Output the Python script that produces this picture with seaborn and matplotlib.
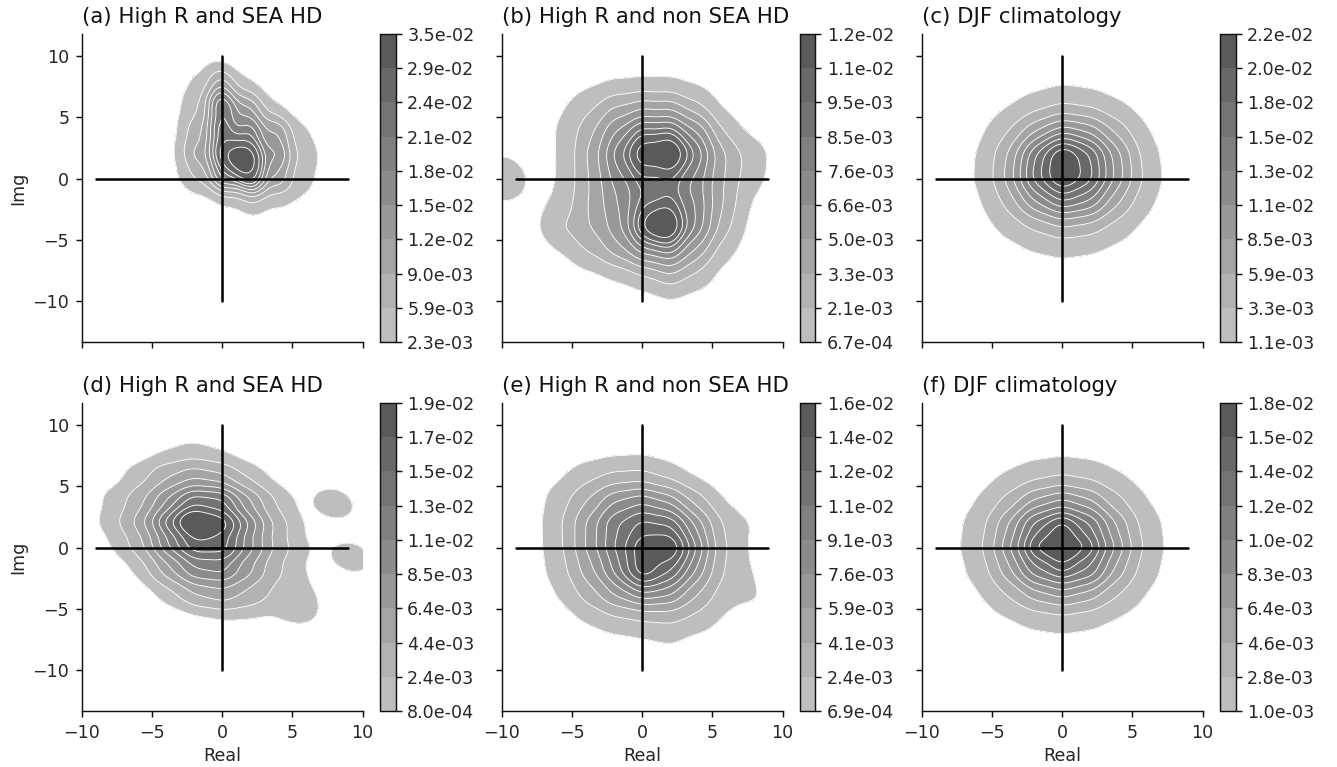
import matplotlib
matplotlib.use("Agg")
import matplotlib.pyplot as plt
import seaborn as sns

# Density (x 1e-3) on a coarse grid, used as weights for the KDE
grid_x = [-8, -6, -4, -2, 0, 2, 4, 6, 8]
grid_y = [8, 6, 4, 2, 0, -2, -4, -6, -8, -10]

a_rows = [[0, 0, 0, 1.5, 7, 1, 0, 0, 0],
          [0, 0, 0, 3, 17, 8, 1, 0, 0],
          [0, 0, 0, 5, 17, 14, 8.5, 1.5, 0],
          [0, 0, 0.5, 7, 17, 20, 11, 3, 0],
          [0, 0, 0.5, 4, 13, 17, 8, 2, 0],
          [0, 0, 0, 0, 1, 3, 1.5, 1, 0],
          [0, 0, 0, 0, 0, 0, 0, 0, 0],
          [0, 0, 0, 0, 0, 0, 0, 0, 0],
          [0, 0, 0, 0, 0, 0, 0, 0, 0],
          [0, 0, 0, 0, 0, 0, 0, 0, 0]]

b_rows = [[0, 0, 0.3, 0.6, 0.7, 0.7, 0.4, 0, 0],
          [0, 0.5, 1.5, 3, 3.5, 3.5, 2, 0.3, 0],
          [0, 0.8, 2.5, 5, 7.5, 7.5, 5, 1.5, 0.2],
          [0, 0.7, 3, 6.5, 11, 12.5, 7, 3, 1.6],
          [0, 0.7, 2.8, 5.5, 7.5, 7.5, 5.5, 2.8, 1.2],
          [0.3, 0.9, 3, 5, 7, 8, 6, 2.8, 0.4],
          [0.3, 2.2, 3, 4.5, 8.5, 10, 6, 2.2, 0.2],
          [0, 0.5, 2, 3.5, 5.5, 6.5, 3.5, 1, 0],
          [0, 0, 0.2, 0.7, 1.5, 2.8, 1.5, 0.1, 0],
          [0, 0, 0, 0, 0.1, 0.5, 0.1, 0, 0]]

c_rows = [[0, 0, 0.1, 0.3, 0.6, 0.4, 0.2, 0, 0],
          [0, 0.1, 0.7, 1.8, 2.9, 2.3, 1.1, 0.3, 0],
          [0, 0.5, 2.4, 6.5, 10.5, 8.5, 4, 0.9, 0.1],
          [0.1, 0.9, 4.6, 14, 24, 17, 8, 1.7, 0.2],
          [0.1, 1, 5.2, 15.5, 24, 18, 8.5, 2.2, 0.2],
          [0.1, 0.6, 3.2, 9, 14, 11.5, 5, 1.3, 0.1],
          [0, 0.3, 1.4, 3, 4.6, 3.8, 1.8, 0.5, 0],
          [0, 0, 0.4, 0.9, 1.3, 1, 0.5, 0.1, 0],
          [0, 0, 0, 0, 0.1, 0, 0, 0, 0],
          [0, 0, 0, 0, 0, 0, 0, 0, 0]]

d_rows = [[0, 0.1, 0.6, 1.1, 0.6, 0.1, 0, 0, 0],
          [0.2, 1.2, 3, 4.3, 3.4, 1.4, 0.3, 0, 0],
          [1, 2.6, 6, 10.5, 10, 4.7, 1.5, 0.2, 0],
          [1.3, 3.8, 10, 21, 16, 7.5, 2.6, 0.5, 0],
          [0.6, 2.4, 7.5, 13, 13, 6.8, 2.7, 0.8, 0],
          [0, 0.8, 4, 7.8, 8.5, 5, 2, 0.6, 0],
          [0, 0.1, 1, 3.2, 4.2, 2.8, 1.3, 0.5, 0],
          [0, 0, 0, 0.2, 0.5, 0.5, 0.4, 0, 0],
          [0, 0, 0, 0, 0, 0, 0, 0, 0],
          [0, 0, 0, 0, 0, 0, 0, 0, 0]]

e_rows = [[0, 0, 0.1, 0.3, 0.4, 0.3, 0, 0, 0],
          [0, 0.5, 1.6, 2.4, 2.6, 1.4, 0.4, 0, 0],
          [0.1, 1.5, 3.6, 6.5, 7.5, 6, 2.8, 0.5, 0.1],
          [0.2, 1.8, 5.5, 9.5, 12, 11, 6, 1.8, 0.8],
          [0.2, 1.7, 5.5, 9.5, 15, 17, 7.5, 2, 0.5],
          [0.2, 1.4, 4.5, 8, 16, 11, 6, 1.8, 0.8],
          [0.1, 0.8, 2.8, 5.3, 7, 6.5, 3.5, 1.2, 1.2],
          [0, 0.1, 0.9, 1.7, 2, 2.4, 1.6, 0.5, 0.1],
          [0, 0, 0, 0.2, 0.4, 0.8, 0.1, 0, 0],
          [0, 0, 0, 0, 0, 0, 0, 0, 0]]

f_rows = [[0, 0, 0.15, 0.3, 0.4, 0.3, 0.15, 0, 0],
          [0, 0.25, 0.9, 1.8, 2.4, 1.9, 0.9, 0.25, 0],
          [0.1, 0.8, 2.9, 6.2, 8, 6.2, 2.9, 0.8, 0.1],
          [0.3, 1.7, 5.9, 13, 17.5, 12.5, 5.9, 1.7, 0.3],
          [0.35, 2, 7.2, 17, 21, 16, 7.5, 2, 0.35],
          [0.25, 1.4, 5.3, 11.5, 15, 12, 5.3, 1.5, 0.25],
          [0.1, 0.6, 2.4, 5.1, 6.6, 5.1, 2.4, 0.7, 0.1],
          [0, 0.2, 0.6, 1.3, 1.7, 1.3, 0.6, 0.2, 0],
          [0, 0, 0.1, 0.2, 0.3, 0.2, 0.1, 0, 0],
          [0, 0, 0, 0, 0, 0, 0, 0, 0]]

# Peaks and small separate blobs that sit off the grid
a_extra = [(1.3, 1.5, 22)]
b_extra = [(-10.2, 1, 1.2), (-10.2, -1, 1.2), (-9.3, 0, 1.6), (1.2, -3.7, 4)]
d_extra = [(8, 3.6, 2.6), (9.2, -0.8, 2.6), (5.5, -5.1, 2), (6, -3.5, 0.5)]

a_labels = ["2.3e-03", "5.9e-03", "9.0e-03", "1.2e-02", "1.5e-02", "1.8e-02", "2.1e-02", "2.4e-02", "2.9e-02", "3.5e-02"]
b_labels = ["6.7e-04", "2.1e-03", "3.3e-03", "5.0e-03", "6.6e-03", "7.6e-03", "8.5e-03", "9.5e-03", "1.1e-02", "1.2e-02"]
c_labels = ["1.1e-03", "3.3e-03", "5.9e-03", "8.5e-03", "1.1e-02", "1.3e-02", "1.5e-02", "1.8e-02", "2.0e-02", "2.2e-02"]
d_labels = ["8.0e-04", "2.4e-03", "4.4e-03", "6.4e-03", "8.5e-03", "1.1e-02", "1.3e-02", "1.5e-02", "1.7e-02", "1.9e-02"]
e_labels = ["6.9e-04", "2.4e-03", "4.1e-03", "5.9e-03", "7.6e-03", "9.1e-03", "1.1e-02", "1.2e-02", "1.4e-02", "1.6e-02"]
f_labels = ["1.0e-03", "2.8e-03", "4.6e-03", "6.4e-03", "8.3e-03", "1.0e-02", "1.2e-02", "1.4e-02", "1.5e-02", "1.8e-02"]

titles = ["(a) High R and SEA HD", "(b) High R and non SEA HD", "(c) DJF climatology",
          "(d) High R and SEA HD", "(e) High R and non SEA HD", "(f) DJF climatology"]
panels = [(a_rows, a_extra, a_labels), (b_rows, b_extra, b_labels), (c_rows, [], c_labels),
          (d_rows, d_extra, d_labels), (e_rows, [], e_labels), (f_rows, [], f_labels)]
bw_factors = [0.42, 0.30, 0.41, 0.33, 0.35, 0.37]

band_greys = ["#bebebe", "#b2b2b2", "#a5a5a5", "#999999", "#8c8c8c", "#808080", "#747474", "#686868", "#5a5a5a"]

W, H = 1337, 767
sns.set_style("ticks")
plt.rcParams["font.family"] = "DejaVu Sans"
plt.rcParams["text.color"] = "#111111"
plt.rcParams["axes.edgecolor"] = "#111111"
fig = plt.figure(figsize=(W / 130, H / 130), dpi=130)

lefts = [82, 502, 922]
tops = [34, 403]
ax_w, ax_h = 280.5, 308

for i, (rows, extra, labels) in enumerate(panels):
    row, col = i // 3, i % 3
    left, top = lefts[col], tops[row]
    ax = fig.add_axes([left / W, 1 - (top + ax_h) / H, ax_w / W, ax_h / H])
    cax = fig.add_axes([(left + 297.5) / W, 1 - (top + ax_h) / H, 16 / W, ax_h / H])

    x = [gx for gy in grid_y for gx in grid_x] + [p[0] for p in extra]
    y = [gy for gy in grid_y for gx in grid_x] + [p[1] for p in extra]
    w = [v for r in rows for v in r] + [p[2] for p in extra]

    # color= stops seaborn scouting fill_between with the colors list
    sns.kdeplot(x=x, y=y, weights=w, fill=True, levels=10, thresh=0.05, color="grey", colors=band_greys,
                bw_method=bw_factors[i], gridsize=200, cbar=True, cbar_ax=cax, ax=ax)
    cs = ax.collections[0]
    cs.colorbar.set_ticks(cs.levels, labels=labels)
    cs.colorbar.ax.tick_params(labelsize=9.7, length=3.5, width=0.8, pad=3, color="#111111")
    sns.kdeplot(x=x, y=y, weights=w, levels=10, thresh=0.05, color="white", linewidths=0.5,
                bw_method=bw_factors[i], gridsize=200, ax=ax)

    ax.plot([-9, 9], [0, 0], color="black", lw=1.4)
    ax.plot([0, 0], [-10, 10], color="black", lw=1.4)
    ax.set_xlim(-10, 10)
    ax.set_ylim(-13.35, 11.8)
    ax.set_xticks([-10, -5, 0, 5, 10])
    ax.set_yticks([-10, -5, 0, 5, 10])
    ax.tick_params(labelsize=9.7, length=3.5, width=0.8, pad=3.5, color="#111111", labelbottom=row == 1, labelleft=col == 0)
    ax.set_xlabel("Real" if row == 1 else "", fontsize=9.7, labelpad=3)
    ax.set_ylabel("Img" if col == 0 else "", fontsize=9.7, labelpad=3)
    ax.set_title(titles[i], loc="left", fontsize=11.8, pad=6)
    sns.despine(ax=ax)

fig.savefig("out.png", dpi=130)
